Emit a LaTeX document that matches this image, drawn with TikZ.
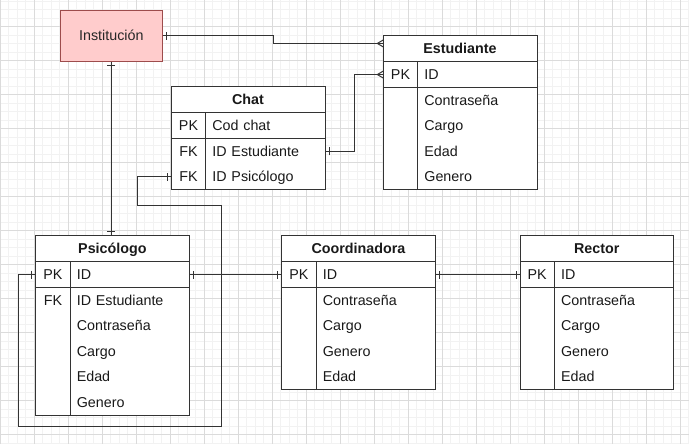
\documentclass[tikz,border=0pt]{standalone}
\usepackage{fontspec}
\setmainfont{Liberation Sans}
\usetikzlibrary{positioning,calc,decorations.markings}

\begin{document}
\begin{tikzpicture}[x=1pt,y=-1pt,
		font=\fontsize{14.3}{17}\selectfont,
		minorgrid/.style={draw=black!5, line width=0.8pt},
		majorgrid/.style={draw=black!14, line width=0.8pt},
		tableline/.style={draw=black!80, line width=1pt},
		tablehead/.style={fill=white, anchor=north west, inner sep=0pt, minimum width=153pt, minimum height=25.5pt,
			text height=12pt, text depth=2pt, font=\fontsize{14.3}{17}\selectfont\bfseries, text=black!90},
		keycell/.style={fill=white, inner sep=0pt, minimum width=34pt, minimum height=25.5pt,
			text height=12pt, text depth=2pt, text=black!90},
		fieldcell/.style={fill=white, inner xsep=6.5pt, inner ysep=0pt, text width=106pt, align=left,
			minimum height=25.5pt, text height=12pt, text depth=2pt, text=black!90},
		entity/.style={draw=red!45!black!70, fill=red!20!white, line width=1pt, minimum width=102pt, minimum height=51pt,
			inner sep=0pt, text=black!85},
		rel/.style={draw=black!80, line width=1pt},
		one start/.style={postaction={decorate, decoration={markings,
			mark=at position 0 with {\draw[black!80, line width=1pt] (4pt,-4pt) -- (4pt,4pt);}}}},
		one end/.style={postaction={decorate, decoration={markings,
			mark=at position 1 with {\draw[black!80, line width=1pt] (-4pt,-4pt) -- (-4pt,4pt);}}}},
		many end/.style={postaction={decorate, decoration={markings,
			mark=at position 1 with {\draw[black!80, line width=1pt] (0pt,-3.5pt) -- (-6pt,0pt) -- (0pt,3.5pt);}}}}]
	\useasboundingbox (0,0) rectangle (689,444);

	% draw the background grid
	\foreach \x in {0.3,8.8,...,689} \draw[minorgrid] (\x,0) -- (\x,444);
	\foreach \y in {1.2,9.7,...,444} \draw[minorgrid] (0,\y) -- (689,\y);
	\foreach \x in {0.3,34.3,...,689} \draw[majorgrid] (\x,0) -- (\x,444);
	\foreach \y in {26.7,60.7,...,444} \draw[majorgrid] (0,\y) -- (689,\y);

	% draw the Institucion entity
	\node[entity] (institucion) at (111.3,35.8) {Institución};

	% draw the Estudiante table
	\node[tablehead] (estudiante) at (383.3,35.7) {Estudiante};
	\node[keycell, anchor=north west] (estudiante-k0) at (estudiante.south west) {PK};
	\node[fieldcell, right=0pt of estudiante-k0] (estudiante-f0) {ID};
	\foreach \k/\f [count=\i] in {/Contraseña,/Cargo,/Edad,/Genero}{
		\node[keycell, anchor=north west] (estudiante-k\i) at ([yshift={-25.5pt*(\i-1)}]estudiante-k0.south west) {\k};
		\node[fieldcell, right=0pt of estudiante-k\i] (estudiante-f\i) {\f};
	}
	\draw[tableline] (estudiante.north west) rectangle (estudiante-f4.south east)
		(estudiante.south west) -- (estudiante.south east)
		(estudiante-k0.south west) -- (estudiante-f0.south east)
		(estudiante-k0.north east) -- (estudiante-k4.south east);

	% draw the Chat table
	\node[tablehead] (chat) at (171.3,86.7) {Chat};
	\node[keycell, anchor=north west] (chat-k0) at (chat.south west) {PK};
	\node[fieldcell, right=0pt of chat-k0] (chat-f0) {Cod chat};
	\foreach \k/\f [count=\i] in {FK/ID Estudiante,FK/ID Psicólogo}{
		\node[keycell, anchor=north west] (chat-k\i) at ([yshift={-25.5pt*(\i-1)}]chat-k0.south west) {\k};
		\node[fieldcell, right=0pt of chat-k\i] (chat-f\i) {\f};
	}
	\draw[tableline] (chat.north west) rectangle (chat-f2.south east)
		(chat.south west) -- (chat.south east)
		(chat-k0.south west) -- (chat-f0.south east)
		(chat-k0.north east) -- (chat-k2.south east);

	% draw the Psicologo table
	\node[tablehead] (psicologo) at (35.7,235.7) {Psicólogo};
	\node[keycell, anchor=north west] (psicologo-k0) at (psicologo.south west) {PK};
	\node[fieldcell, right=0pt of psicologo-k0] (psicologo-f0) {ID};
	\foreach \k/\f [count=\i] in {FK/ID Estudiante,/Contraseña,/Cargo,/Edad,/Genero}{
		\node[keycell, anchor=north west] (psicologo-k\i) at ([yshift={-25.5pt*(\i-1)}]psicologo-k0.south west) {\k};
		\node[fieldcell, right=0pt of psicologo-k\i] (psicologo-f\i) {\f};
	}
	\draw[tableline] (psicologo.north west) rectangle (psicologo-f5.south east)
		(psicologo.south west) -- (psicologo.south east)
		(psicologo-k0.south west) -- (psicologo-f0.south east)
		(psicologo-k0.north east) -- (psicologo-k5.south east);

	% draw the Coordinadora table
	\node[tablehead] (coordinadora) at (281.7,235.7) {Coordinadora};
	\node[keycell, anchor=north west] (coordinadora-k0) at (coordinadora.south west) {PK};
	\node[fieldcell, right=0pt of coordinadora-k0] (coordinadora-f0) {ID};
	\foreach \k/\f [count=\i] in {/Contraseña,/Cargo,/Genero,/Edad}{
		\node[keycell, anchor=north west] (coordinadora-k\i) at ([yshift={-25.5pt*(\i-1)}]coordinadora-k0.south west) {\k};
		\node[fieldcell, right=0pt of coordinadora-k\i] (coordinadora-f\i) {\f};
	}
	\draw[tableline] (coordinadora.north west) rectangle (coordinadora-f4.south east)
		(coordinadora.south west) -- (coordinadora.south east)
		(coordinadora-k0.south west) -- (coordinadora-f0.south east)
		(coordinadora-k0.north east) -- (coordinadora-k4.south east);

	% draw the Rector table
	\node[tablehead] (rector) at (520,235.7) {Rector};
	\node[keycell, anchor=north west] (rector-k0) at (rector.south west) {PK};
	\node[fieldcell, right=0pt of rector-k0] (rector-f0) {ID};
	\foreach \k/\f [count=\i] in {/Contraseña,/Cargo,/Genero,/Edad}{
		\node[keycell, anchor=north west] (rector-k\i) at ([yshift={-25.5pt*(\i-1)}]rector-k0.south west) {\k};
		\node[fieldcell, right=0pt of rector-k\i] (rector-f\i) {\f};
	}
	\draw[tableline] (rector.north west) rectangle (rector-f4.south east)
		(rector.south west) -- (rector.south east)
		(rector-k0.south west) -- (rector-f0.south east)
		(rector-k0.north east) -- (rector-k4.south east);

	% draw the relations
	\draw[rel, one start, many end] (institucion.east) -| ($(institucion.east)!.5!([yshift=5.2pt]estudiante.west)$)
		|- ([yshift=5.2pt]estudiante.west);
	\draw[rel, one start, many end] (chat-f1.east) -| ($(chat-f1.east)!.5!(estudiante-k0.west)$) |- (estudiante-k0.west);
	\draw[rel, one start, one end] (institucion.south) -- (institucion.south |- psicologo.north);
	\draw[rel, one start, one end] (psicologo-f0.east) -- (coordinadora-k0.west);
	\draw[rel, one start, one end] (coordinadora-f0.east) -- (rector-k0.west);
	\draw[rel, one start, one end] (psicologo-k0.west) -| (18.3,426.7) -| (221.7,205.7) -- (137.3,205.7) |- (chat-k2.west);
\end{tikzpicture}
\end{document}
